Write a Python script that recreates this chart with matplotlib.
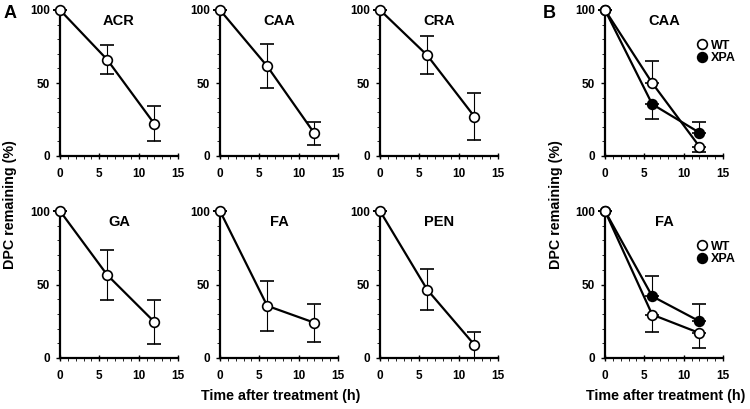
import matplotlib
matplotlib.use("Agg")
import matplotlib.pyplot as plt
from matplotlib.ticker import MultipleLocator

plt.rcParams['font.family'] = ['Liberation Sans', 'DejaVu Sans']
plt.rcParams['font.weight'] = 'bold'

# Time points (h)
times = [0, 6, 12]

# Panel A: agents, mean DPC remaining (%) and error
agents = ["ACR", "CAA", "CRA", "GA", "FA", "PEN"]
a_means = [
    [100, 66, 22],
    [100, 61.5, 15.5],
    [100, 69, 27],
    [100, 56.5, 24.5],
    [100, 35.5, 24],
    [100, 46.5, 9],
]
a_errs = [
    [0, 10, 12],
    [0, 15, 8],
    [0, 13, 16],
    [0, 17, 15],
    [0, 17, 13],
    [0, 14, 9],
]

# Panel B: WT vs XPA cells
b_agents = ["CAA", "FA"]
wt_means = [[100, 50, 6.5], [100, 29.5, 17]]
wt_err_lo = [[0, 0, 4], [0, 12, 10]]
wt_err_hi = [[0, 15, 0], [0, 0, 0]]
xpa_means = [[100, 35.5, 16], [100, 42, 25]]
xpa_err_lo = [[0, 10, 0], [0, 0, 0]]
xpa_err_hi = [[0, 0, 7], [0, 14, 12]]

fig = plt.figure(figsize=(7.5, 4.09), dpi=100)

W, H = 750, 409
def add_ax(x0, y_top, y_bot, w=118):
    return fig.add_axes([x0 / W, 1 - y_bot / H, w / W, (y_bot - y_top) / H])

def style(ax):
    ax.set_xlim(0, 15)
    ax.set_ylim(0, 100)
    for s in ["top", "right"]:
        ax.spines[s].set_visible(False)
    for s in ["left", "bottom"]:
        ax.spines[s].set_linewidth(1.6)
    ax.set_xticks([0, 5, 10, 15])
    ax.set_yticks([0, 50, 100])
    ax.xaxis.set_minor_locator(MultipleLocator(1))
    ax.yaxis.set_minor_locator(MultipleLocator(10))
    ax.tick_params(axis='x', which='major', direction='inout', length=5, width=1, labelsize=8.5, pad=6)
    ax.tick_params(axis='x', which='minor', direction='out', length=2.5, width=0.6)
    ax.tick_params(axis='y', which='major', direction='out', length=3, width=1, labelsize=8.5, pad=4)
    ax.tick_params(axis='y', which='minor', direction='out', length=2, width=0.6)
    for lab in ax.get_xticklabels() + ax.get_yticklabels():
        lab.set_fontweight('bold')

col_x = [60, 220, 380]
rows = [(10, 156), (211, 358)]

for i, name in enumerate(agents):
    r, c = divmod(i, 3)
    ax = add_ax(col_x[c], rows[r][0], rows[r][1])
    style(ax)
    ax.errorbar(times, a_means[i], yerr=a_errs[i], color='black', lw=1.6,
                marker='o', ms=7, mfc='white', mec='black', mew=1.2,
                ecolor='black', elinewidth=0.8, capsize=5, capthick=0.8,
                clip_on=False, zorder=3)
    ax.text(0.5, 0.97, name, transform=ax.transAxes, ha='center', va='top',
            fontsize=10.5, fontweight='bold')

for j, name in enumerate(b_agents):
    ax = add_ax(605, rows[j][0], rows[j][1])
    style(ax)
    ax.errorbar(times, xpa_means[j], yerr=[xpa_err_lo[j], xpa_err_hi[j]], color='black', lw=1.6,
                marker='o', ms=7, mfc='black', mec='black', mew=1.2,
                ecolor='black', elinewidth=0.8, capsize=5, capthick=0.8,
                clip_on=False, zorder=3, label='XPA')
    ax.errorbar(times, wt_means[j], yerr=[wt_err_lo[j], wt_err_hi[j]], color='black', lw=1.6,
                marker='o', ms=7, mfc='white', mec='black', mew=1.2,
                ecolor='black', elinewidth=0.8, capsize=5, capthick=0.8,
                clip_on=False, zorder=4, label='WT')
    ax.text(0.5, 0.97, name, transform=ax.transAxes, ha='center', va='top',
            fontsize=10.5, fontweight='bold')
    handles, labels = ax.get_legend_handles_labels()
    handles = [h[0] for h in handles][::-1]
    labels = labels[::-1]
    leg = ax.legend(handles, labels, loc='upper left', bbox_to_anchor=(0.74, 0.84),
                    frameon=False, handlelength=0.6, handletextpad=0.4,
                    labelspacing=0.05, borderpad=0, prop={'weight': 'bold', 'size': 9})
    for h in leg.legend_handles:
        h.set_linestyle('none')

fig.text(10 / W, 1 - 205 / H, "DPC remaining (%)", rotation=90, ha='center', va='center',
         fontsize=10.3, fontweight='bold')
fig.text(556 / W, 1 - 205 / H, "DPC remaining (%)", rotation=90, ha='center', va='center',
         fontsize=10.3, fontweight='bold')
fig.text(281 / W, 1 - 396 / H, "Time after treatment (h)", ha='center', va='center',
         fontsize=10.3, fontweight='bold')
fig.text(666 / W, 1 - 396 / H, "Time after treatment (h)", ha='center', va='center',
         fontsize=10.3, fontweight='bold')
fig.text(10 / W, 1 - 13 / H, "A", ha='center', va='center', fontsize=13, fontweight='bold')
fig.text(549 / W, 1 - 13 / H, "B", ha='center', va='center', fontsize=13, fontweight='bold')

fig.savefig("out.png", dpi=100)
